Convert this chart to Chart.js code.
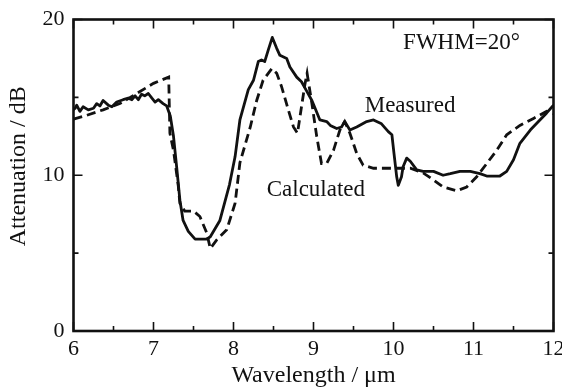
<!DOCTYPE html>
<html><head><meta charset="utf-8">
<script src="https://cdn.jsdelivr.net/npm/chart.js@4/dist/chart.umd.min.js"></script>
<style>html,body{margin:0;padding:0;background:#fff;}#wrap{width:562px;height:390px;}</style>
</head><body><div id="wrap"><canvas id="c" width="562" height="390"></canvas></div>
<script>
const measuredX = [6.00,6.02,6.04,6.08,6.12,6.185,6.25,6.29,6.33,6.37,6.435,6.48,6.54,6.62,6.685,6.73,6.77,6.81,6.85,6.89,6.935,6.98,7.02,7.06,7.12,7.165,7.21,7.25,7.29,7.33,7.37,7.435,7.52,7.665,7.71,7.83,7.95,8.02,8.08,8.185,8.25,8.31,8.35,8.39,8.435,8.485,8.54,8.58,8.665,8.705,8.79,8.85,8.915,8.98,9.02,9.08,9.165,9.21,9.29,9.35,9.39,9.455,9.54,9.665,9.75,9.85,9.935,9.98,10.006,10.04,10.06,10.10,10.12,10.165,10.21,10.29,10.37,10.5,10.62,10.71,10.83,10.96,11.08,11.165,11.33,11.415,11.5,11.58,11.71,11.83,11.915,12.0];
const measuredY = [14.2,14.3,14.5,14.1,14.4,14.2,14.3,14.6,14.45,14.8,14.5,14.4,14.7,14.85,14.95,14.85,15.1,14.85,15.2,15.1,15.25,14.95,14.7,14.85,14.6,14.45,13.8,12.5,10.5,8.4,7.1,6.4,5.9,5.9,6.05,7.1,9.4,11.2,13.55,15.5,16.1,17.3,17.4,17.3,18.05,18.85,18.15,17.7,17.5,16.95,16.3,16.0,15.4,14.8,14.3,13.55,13.45,13.2,13.0,13.1,13.45,12.9,13.1,13.45,13.55,13.3,12.8,12.6,11.4,9.9,9.35,9.9,10.55,11.1,10.9,10.35,10.25,10.25,10.0,10.1,10.25,10.25,10.1,9.95,9.95,10.25,11.0,12.05,12.9,13.55,14.0,14.5];
const calculatedX = [6.00,6.165,6.37,6.58,6.79,7.0,7.19,7.205,7.25,7.31,7.33,7.39,7.5,7.58,7.665,7.71,7.79,7.915,8.02,8.08,8.21,8.29,8.37,8.48,8.54,8.6,8.685,8.75,8.80,8.85,8.895,8.92,8.98,9.04,9.1,9.165,9.25,9.33,9.39,9.455,9.54,9.62,9.75,10.0,10.21,10.37,10.5,10.62,10.79,10.915,11.04,11.165,11.29,11.415,11.58,11.75,11.915,12.0];
const calculatedY = [13.6,13.85,14.2,14.6,15.25,15.9,16.3,12.7,11.6,9.3,8.2,7.7,7.7,7.35,6.3,5.3,5.85,6.5,8.2,10.8,13.1,14.8,16.1,16.85,16.55,15.7,14.2,13.1,12.7,14.4,15.9,16.55,14.6,12.5,10.75,10.75,11.6,12.9,13.45,12.7,11.4,10.65,10.45,10.45,10.45,10.15,9.7,9.25,9.0,9.25,9.9,10.75,11.6,12.6,13.2,13.65,14.1,13.95];
const xTickValues = [6,7,8,9,10,11,12];
const xMinorValues = [6.5,7.5,8.5,9.5,10.5,11.5];
const yTickValues = [0,10,20];
const yMinorValues = [5,15];
const labelTexts = ['FWHM=20°','Measured','Calculated'];
const labelX = [10.12,9.64,8.415];
const labelY = [18.1,14.08,8.67];
const yTitle = 'Attenuation / dB';

const SERIF = "'Liberation Serif','Times New Roman',serif";
const INK = '#111';

const framePlugin = {
  id:'frame',
  afterDraw(chart){
    const {ctx, chartArea:a, scales:{x,y}} = chart;
    ctx.save();
    ctx.strokeStyle = INK;
    ctx.lineWidth = 1.6;
    const major = 9, minor = 5;
    ctx.beginPath();
    xTickValues.forEach(v=>{const p=x.getPixelForValue(v);ctx.moveTo(p,a.bottom);ctx.lineTo(p,a.bottom-major);ctx.moveTo(p,a.top);ctx.lineTo(p,a.top+major);});
    xMinorValues.forEach(v=>{const p=x.getPixelForValue(v);ctx.moveTo(p,a.bottom);ctx.lineTo(p,a.bottom-minor);ctx.moveTo(p,a.top);ctx.lineTo(p,a.top+minor);});
    yTickValues.forEach(v=>{const p=y.getPixelForValue(v);ctx.moveTo(a.left,p);ctx.lineTo(a.left+major,p);ctx.moveTo(a.right,p);ctx.lineTo(a.right-major,p);});
    yMinorValues.forEach(v=>{const p=y.getPixelForValue(v);ctx.moveTo(a.left,p);ctx.lineTo(a.left+minor,p);ctx.moveTo(a.right,p);ctx.lineTo(a.right-minor,p);});
    ctx.stroke();
    ctx.lineWidth = 2.6;
    ctx.strokeRect(a.left,a.top,a.right-a.left,a.bottom-a.top);
    ctx.fillStyle = INK;
    ctx.font = "23px " + SERIF;
    ctx.textAlign = 'left';
    ctx.textBaseline = 'alphabetic';
    labelTexts.forEach((t,i)=>ctx.fillText(t, x.getPixelForValue(labelX[i]), y.getPixelForValue(labelY[i])));
    // y-axis title
    ctx.font = "24px " + SERIF;
    ctx.textAlign = 'center';
    ctx.textBaseline = 'middle';
    ctx.translate(19, (a.top + a.bottom) / 2 - 9);
    ctx.rotate(-Math.PI/2);
    ctx.fillText(yTitle, 0, 0);
    ctx.restore();
  }
};

const toPts = (xs,ys)=>xs.map((v,i)=>({x:v,y:ys[i]}));

new Chart(document.getElementById('c'), {
  type:'scatter',
  data:{datasets:[
    {label:'Measured', data:toPts(measuredX,measuredY), showLine:true, borderColor:INK, borderWidth:2.8, pointRadius:0, tension:0, fill:false, borderJoinStyle:'round'},
    {label:'Calculated', data:toPts(calculatedX,calculatedY), showLine:true, borderColor:INK, borderWidth:2.8, borderDash:[9,5], pointRadius:0, tension:0, fill:false}
  ]},
  options:{
    responsive:false, animation:false, devicePixelRatio:1,
    layout:{padding:{left:0,right:8.5,top:19.5,bottom:0}},
    plugins:{legend:{display:false}, tooltip:{enabled:false}},
    scales:{
      x:{type:'linear', min:6, max:12,
        afterBuildTicks:s=>{s.ticks = xTickValues.map(v=>({value:v}));},
        afterFit:s=>{s.height=59; s.paddingLeft=0; s.paddingRight=0;},
        grid:{display:false, drawTicks:false}, border:{display:false},
        ticks:{padding:5, color:INK, font:{family:SERIF, size:22}, maxRotation:0, autoSkip:false},
        title:{display:true, text:'Wavelength / μm', color:INK, font:{family:SERIF, size:24}, padding:{top:0,bottom:0}}
      },
      y:{type:'linear', min:0, max:20,
        afterBuildTicks:s=>{s.ticks = yTickValues.map(v=>({value:v}));},
        afterFit:s=>{s.width=73.5; s.paddingTop=0; s.paddingBottom=0;},
        grid:{display:false, drawTicks:false}, border:{display:false},
        ticks:{padding:9, color:INK, font:{family:SERIF, size:22}},
        title:{display:false}
      }
    }
  },
  plugins:[framePlugin]
});
</script>
</body></html>
